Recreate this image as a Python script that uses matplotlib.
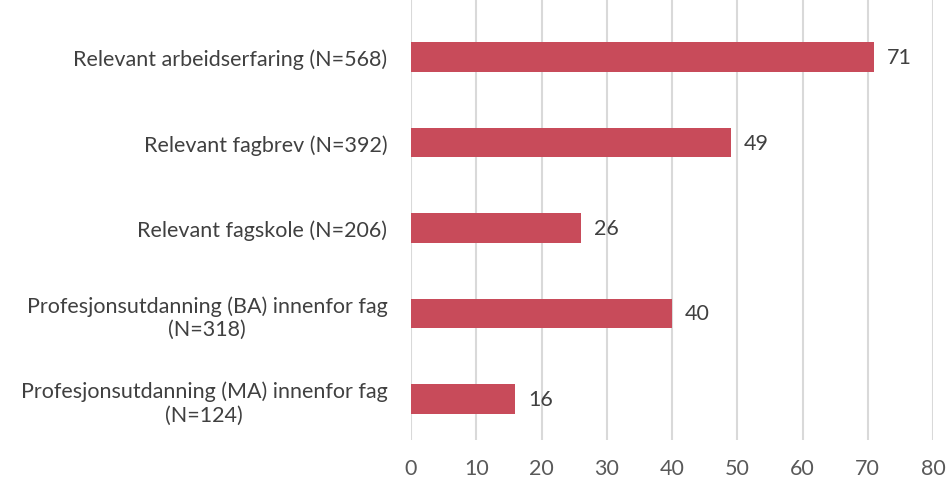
import matplotlib.pyplot as plt
import matplotlib as ml

categories = ['Relevant arbeidserfaring (N=568)',
              'Relevant fagbrev (N=392)',
              'Relevant fagskole (N=206)',
              'Profesjonsutdanning (BA) innenfor fag\n(N=318)',
              'Profesjonsutdanning (MA) innenfor fag\n(N=124)']
values = [71, 49, 26, 40, 16]
xticks = [0, 10, 20, 30, 40, 50, 60, 70, 80]

ml.rc('font', family=['Lato', 'DejaVu Sans'], size=15.5)

fig = plt.figure(figsize=(9.47, 4.81), dpi=100)
ax = fig.add_axes([411/947, 1-441/481, 522/947, 441/481])

pos = list(range(len(categories)))
ax.barh(pos, values, height=0.35, color='#C84B5A', zorder=3)
for p, v in zip(pos, values):
    ax.text(v + 2.0, p, str(v), va='center', ha='left', fontsize=15.5, color='#404040')

ax.set_xlim(0, 80)
ax.set_ylim((441-58)/85.5, -58/85.5)
ax.set_xticks(xticks)
ax.set_yticks(pos)
ax.set_yticklabels(categories, multialignment='center', color='#404040')
ax.tick_params(axis='x', colors='#595959', length=0, pad=13)
ax.tick_params(axis='y', length=0, pad=17)
ax.grid(axis='x', color='#D9D9D9', linewidth=1.5, zorder=0)
for s in ax.spines.values():
    s.set_visible(False)

plt.savefig('out.png')
